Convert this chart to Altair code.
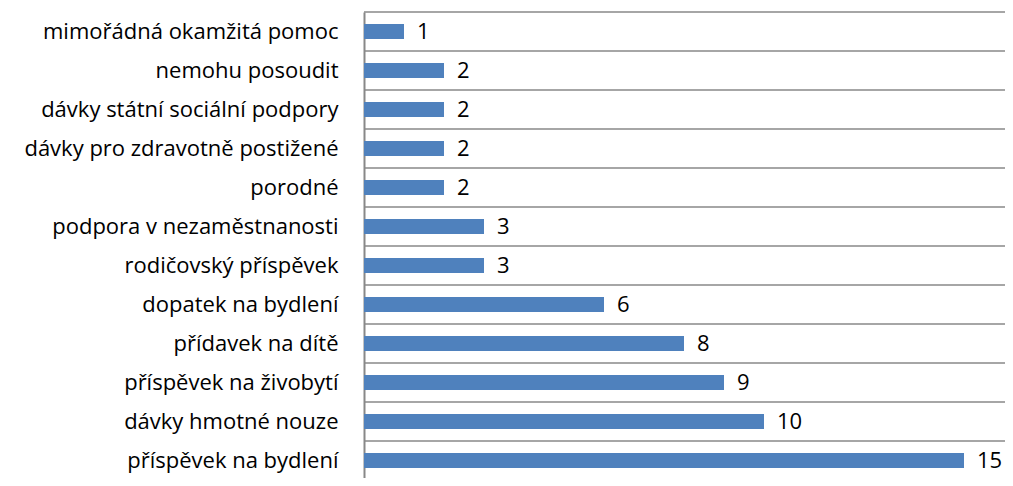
import altair as alt
import pandas as pd

categories = [
    "mimořádná okamžitá pomoc",
    "nemohu posoudit",
    "dávky státní sociální podpory",
    "dávky pro zdravotně postižené",
    "porodné",
    "podpora v nezaměstnanosti",
    "rodičovský příspěvek",
    "dopatek na bydlení",
    "přídavek na dítě",
    "příspěvek na živobytí",
    "dávky hmotné nouze",
    "příspěvek na bydlení",
]
values = [1, 2, 2, 2, 2, 3, 3, 6, 8, 9, 10, 15]

df = pd.DataFrame({"cat": categories, "val": values})

FONT = "Open Sans"
y_scale = alt.Scale(domain=categories, paddingInner=0, paddingOuter=0, range=[0, 468])
x_scale = alt.Scale(domain=[0, 16], nice=False, zero=True, range=[0, 640])

y_axis = alt.Axis(
    labelFont=FONT,
    labelFontSize=22,
    labelColor="#000000",
    labelPadding=26,
    ticks=False,
    grid=False,
    domainColor="#888888",
    domainWidth=2,
    labelLimit=400,
    title=None,
)

grid = alt.Chart(df).mark_rule(color="#888888", strokeWidth=1.3).encode(
    y=alt.Y("cat:N", scale=y_scale, sort=None, bandPosition=0, axis=y_axis),
    x=alt.value(0),
    x2=alt.value(646),
)

bars = alt.Chart(df).mark_bar(color="#4F81BD", size=15).encode(
    y=alt.Y("cat:N", scale=y_scale, sort=None, axis=y_axis),
    x=alt.X("val:Q", scale=x_scale, axis=None),
)

text = alt.Chart(df).mark_text(
    align="left", baseline="middle", dx=13, font=FONT, fontSize=22, color="#000000"
).encode(
    y=alt.Y("cat:N", scale=y_scale, sort=None, axis=y_axis),
    x=alt.X("val:Q", scale=x_scale, axis=None),
    text="val:Q",
)

chart = (
    alt.layer(bars, grid, text)
    .properties(
        width=641,
        height=466,
        autosize=alt.AutoSizeParams(type="none"),
        padding={"left": 356, "top": 4, "right": 0, "bottom": 0},
    )
    .configure_view(stroke=None)
)

chart.save("out.html", embed_options={"renderer": "svg", "actions": False})
